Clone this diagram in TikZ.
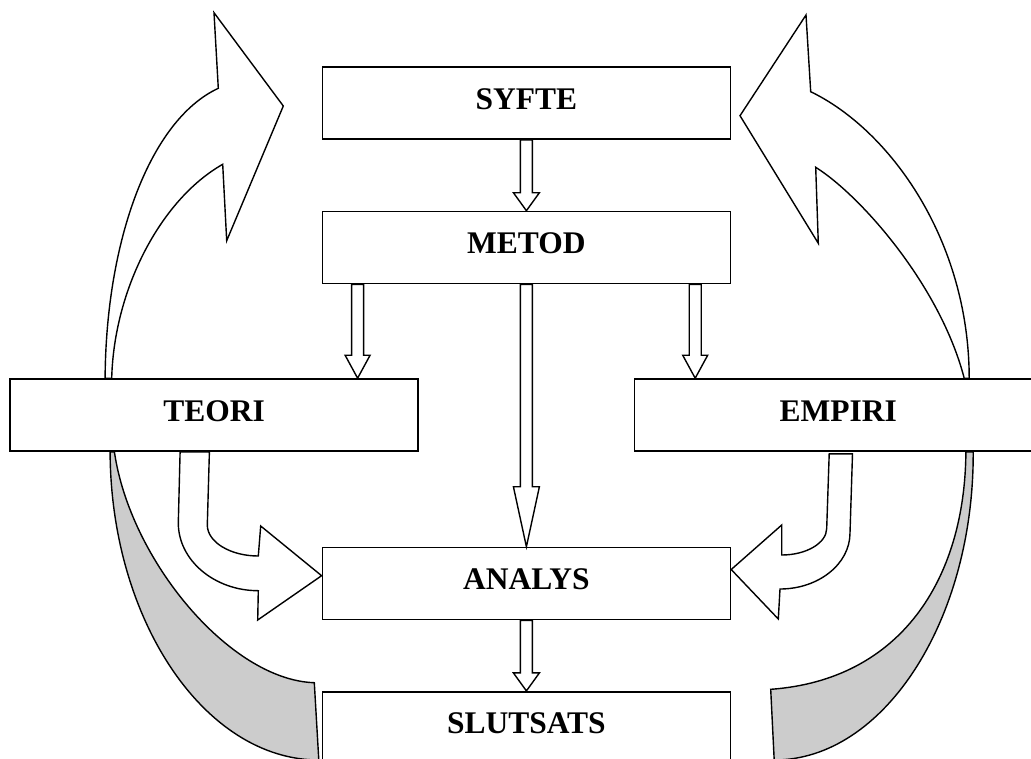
\documentclass[tikz,border=0pt]{standalone}
\usepackage{fontspec}
\setmainfont{Liberation Serif}
\usetikzlibrary{calc}

\tikzset{
  box/.style={draw, line width=1.6pt, fill=white, minimum width=408pt,
    minimum height=72pt, inner sep=0pt, text height=22pt, text depth=10pt,
    font=\fontsize{31.5}{36}\selectfont\bfseries},
  blk/.style={draw, line width=1.4pt, fill=white, line join=miter},
  sweep/.style={draw, line width=1.4pt, fill=white},
  shade/.style={draw, line width=1.4pt, fill=black!20}
}

% straight block arrow: #1 start, #2 end (its y), #3 head length, #4 head half width
\newcommand\blockarrow[4]{%
  \draw[blk] let \p1=(#1), \p2=(#2) in
    (\x1-6pt,\y1) -- (\x1-6pt,\y2+#3) -- (\x1-#4,\y2+#3) -- (\x1,\y2)
    -- (\x1+#4,\y2+#3) -- (\x1+6pt,\y2+#3) -- (\x1+6pt,\y1) -- cycle;}

\begin{document}
\begin{tikzpicture}[x=1pt,y=-1pt]
\useasboundingbox (0,0) rectangle (1031,758);
\clip (0,0) rectangle (1031,758);

% boxes
\node[box] (syfte)    at (526.4,103.2) {SYFTE};
\node[box] (metod)    at (526.4,247.5) {METOD};
\node[box] (teori)    at (214.2,415)   {TEORI};
\node[box] (empiri)   at (838.3,415)   {EMPIRI};
\node[box] (analys)   at (526.4,583.5) {ANALYS};
\node[box] (slutsats) at (526.4,727.7) {SLUTSATS};

% feedback bands below TEORI and EMPIRI
\draw[shade] ($(teori.south west)+(100.7,0)$)
  .. controls (110.7,620) and (204.6,760) .. (318.8,760)
  -- (314.3,682.7)
  .. controls (230,680) and (130,560) .. ($(teori.south west)+(105,0)$) -- cycle;
\draw[shade] ($(empiri.south west)+(339.7,0)$)
  .. controls (974,620) and (884,760) .. (774.2,760)
  -- (770.7,689.3)
  .. controls (900,680) and (965,580) .. ($(empiri.south west)+(332.4,0)$) -- cycle;

% sweeping arrows back to SYFTE
\draw[sweep] ($(teori.north west)+(95.7,0)$)
  .. controls (106,240) and (150,120) .. (218.3,88.3)
  -- (214,12.7) -- (283.3,106) -- (226.7,240.7) -- (222.7,164.3)
  .. controls (160,200) and (114,290) .. ($(teori.north west)+(102.3,0)$) -- cycle;
\draw[sweep] ($(empiri.north west)+(335.7,0)$)
  .. controls (969,240) and (890,130) .. (810.7,91.7)
  -- (806,15) -- (740,115.7) -- (818.3,243.3) -- (815.7,167.3)
  .. controls (860,195) and (940,285) .. ($(empiri.north west)+(330.7,0)$) -- cycle;

% bent arrows into ANALYS
\draw[sweep] ($(teori.south west)+(170.7,0)$) -- (178.3,523)
  .. controls (178.3,560.2) and (214.3,590.7) .. (258.3,590.7)
  -- (257.7,620) -- ($(analys.west)+(0,-7.8)$) -- (260.7,526) -- (258.3,556)
  .. controls (230.3,556) and (207.3,542) .. (207.3,525)
  -- ($(teori.south west)+(200,0)$) -- cycle;
\draw[sweep] ($(empiri.south west)+(195.7,2)$) -- (826.7,528.3)
  .. controls (826.7,543) and (806.4,555) .. (781.7,555)
  -- (781.7,525) -- ($(analys.east)+(0,-14)$) -- (778.3,619) -- (780,589)
  .. controls (818.5,589) and (850,564) .. (850,533)
  -- ($(empiri.south west)+(219,2)$) -- cycle;

% straight block arrows
\blockarrow{syfte.south}{metod.north}{18pt}{13pt}
\blockarrow{$(metod.south west)+(36,0)$}{teori.north}{23pt}{12.5pt}
\blockarrow{$(metod.south east)+(-36,0)$}{empiri.north}{23pt}{12.5pt}
\blockarrow{metod.south}{analys.north}{60pt}{13pt}
\blockarrow{analys.south}{slutsats.north}{18pt}{13pt}
\end{tikzpicture}
\end{document}
